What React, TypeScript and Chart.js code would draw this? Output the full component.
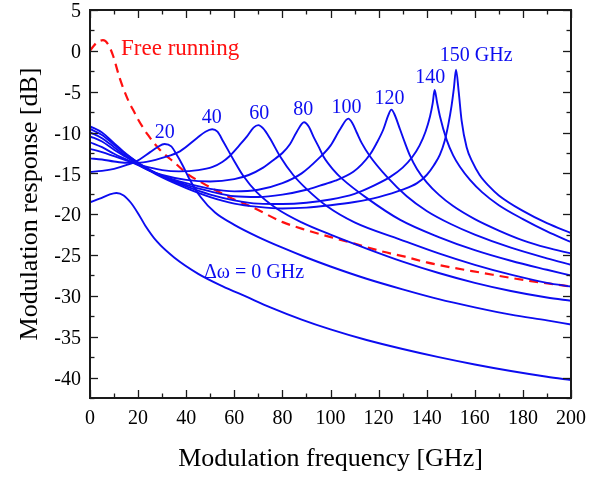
import React, { useEffect, useRef } from 'react';
import { Chart, registerables } from 'chart.js';

Chart.register(...registerables);

// ---------- Data ----------
const xTicks = [0, 20, 40, 60, 80, 100, 120, 140, 160, 180, 200];
const xMinorTicks = [10, 30, 50, 70, 90, 110, 130, 150, 170, 190];
const yTicks = [-40, -35, -30, -25, -20, -15, -10, -5, 0, 5];
const yMinorTicks = [-42.5, -37.5, -32.5, -27.5, -22.5, -17.5, -12.5, -7.5, -2.5, 2.5];

// Free running (dashed red)
const freeX = [0, 1.5, 3, 5.4, 7.5, 9.6, 12.3, 15.8, 18.6, 20, 24.1, 29, 35.2, 40.7, 46.3, 51.8, 60, 66.5, 80.4, 90, 101.2, 110, 122, 131, 140, 150, 163.5, 175, 187, 200];
const freeY = [0, 0.6, 1.05, 1.3, 0.8, -0.6, -3.3, -6.0, -7.6, -8.4, -10.3, -12.1, -13.7, -15.1, -16.1, -17.0, -18.2, -19.0, -21.0, -21.95, -22.9, -23.6, -24.6, -25.2, -25.9, -26.5, -27.2, -27.8, -28.35, -28.85];

// Δω = 0 GHz
const d0X = [0, 4, 8, 11, 14, 17, 20, 23, 28, 35, 45, 55, 65, 75, 88, 100, 115, 130, 145, 160, 175, 190, 200];
const d0Y = [-18.55, -18.1, -17.6, -17.4, -17.7, -18.6, -19.9, -21.4, -23.4, -25.3, -27.3, -28.8, -30.1, -31.4, -32.9, -34.1, -35.4, -36.5, -37.5, -38.4, -39.2, -39.9, -40.3];

// Δω = 20 GHz
const d20X = [0, 5, 10, 15, 20, 25, 28, 31, 33.8, 36, 38.5, 41, 46, 52, 60, 70, 80, 90, 100, 115, 130, 145, 160, 175, 190, 200];
const d20Y = [-14.83, -14.7, -14.45, -14.0, -13.4, -12.4, -11.8, -11.4, -11.7, -12.7, -14.0, -15.5, -17.9, -19.8, -21.3, -22.8, -24.1, -25.3, -26.4, -27.9, -29.2, -30.4, -31.4, -32.3, -33.0, -33.5];

// Δω = 40 GHz
const d40X = [0, 5, 10, 15, 20, 25, 30, 37.4, 44.4, 48, 50.8, 53, 55.4, 59.6, 63.7, 69.3, 77.6, 88, 100, 115, 130, 145, 160, 175, 190, 200];
const d40Y = [-13.16, -13.3, -13.55, -13.7, -13.7, -13.5, -13.1, -12.3, -10.7, -9.9, -9.6, -9.9, -11.1, -13.3, -15.3, -17.3, -19.3, -21.0, -22.5, -24.2, -25.8, -27.2, -28.4, -29.4, -30.2, -30.6];

// Δω = 60 GHz
const d60X = [0, 5, 10, 15, 20, 25, 30, 37, 45, 51, 55, 58, 62, 65.2, 68, 70, 72, 74.8, 79, 84.5, 90, 98.4, 110, 129, 145, 160, 175, 190, 200];
const d60Y = [-12.0, -12.4, -12.9, -13.4, -13.9, -14.3, -14.6, -14.75, -14.6, -14.2, -13.6, -12.9, -11.6, -10.5, -9.4, -9.1, -9.5, -10.7, -12.9, -15.2, -16.9, -19.0, -21.0, -23.1, -24.8, -26.2, -27.4, -28.4, -28.85];

// Δω = 80 GHz
const d80X = [0, 5, 10, 15, 20, 25, 30, 40, 50, 60, 66, 72, 77, 80, 83.2, 86, 89, 91, 92.9, 95, 97, 101, 105, 115, 129, 145, 160, 175, 190, 200];
const d80Y = [-11.2, -11.8, -12.6, -13.3, -14.0, -14.7, -15.2, -15.8, -16.0, -15.7, -15.2, -14.3, -13.2, -12.5, -11.4, -9.9, -8.75, -9.3, -10.5, -11.7, -12.9, -14.5, -15.7, -18.0, -20.7, -22.8, -24.4, -25.7, -26.8, -27.5];

// Δω = 100 GHz
const d100X = [0, 5, 10, 15, 20, 25, 30, 40, 50, 60, 70, 80, 88, 95, 100, 104, 107.4, 109, 110.9, 113, 116.4, 123.4, 131.7, 140, 150, 160, 175, 190, 200];
const d100Y = [-10.47, -11.1, -12.1, -13.0, -13.9, -14.7, -15.3, -16.2, -16.9, -17.2, -17.0, -16.2, -15.0, -13.2, -11.6, -9.6, -8.3, -8.8, -10.0, -11.3, -12.9, -15.4, -17.8, -19.6, -21.2, -22.5, -24.1, -25.4, -26.2];

// Δω = 120 GHz
const d120X = [0, 5, 10, 15, 20, 25, 30, 40, 50, 60, 70, 80, 90, 95.6, 102, 109.5, 113, 116.4, 119, 122, 124, 125.3, 126.5, 128.9, 131, 133, 136, 140, 145, 151, 160, 170, 180, 190, 200];
const d120Y = [-9.98, -10.7, -11.8, -12.9, -13.8, -14.6, -15.3, -16.4, -17.2, -17.8, -17.9, -17.6, -17.0, -16.5, -15.9, -14.8, -13.9, -12.7, -11.4, -9.6, -7.9, -7.2, -7.7, -9.6, -11.3, -12.8, -14.5, -16.1, -17.6, -19.0, -20.6, -22.0, -23.2, -24.1, -24.8];

// Δω = 140 GHz
const d140X = [0, 5, 10, 15, 20, 25, 30, 40, 50, 60, 70, 80, 90, 100, 110, 118, 125, 130, 134, 137, 139.5, 141.4, 142.5, 143.3, 144.3, 145.5, 148.3, 151, 153.8, 158, 163, 170, 180, 190, 200];
const d140Y = [-9.56, -10.3, -11.5, -12.7, -13.7, -14.6, -15.4, -16.6, -17.6, -18.3, -18.7, -18.75, -18.6, -18.2, -17.5, -16.5, -15.4, -14.3, -13.0, -11.6, -9.9, -8.0, -6.4, -4.8, -6.3, -8.0, -10.9, -12.8, -14.2, -15.8, -17.3, -18.9, -20.6, -22.1, -23.4];

// Δω = 150 GHz
const d150X = [0, 5, 10, 15, 20, 25, 30, 40, 50, 60, 70, 80, 90, 100, 110, 120, 130, 136, 140, 143, 145.5, 147.5, 149, 150.3, 151.3, 152.2, 153.3, 154.5, 156.6, 159, 162, 166, 170, 180, 190, 200];
const d150Y = [-9.24, -10.0, -11.3, -12.6, -13.7, -14.7, -15.5, -16.8, -17.9, -18.7, -19.1, -19.3, -19.2, -18.9, -18.5, -17.9, -17.0, -16.2, -15.2, -14.0, -12.7, -11.0, -9.0, -6.8, -4.6, -2.3, -5.0, -8.5, -11.8, -13.6, -15.2, -16.6, -17.7, -19.6, -21.1, -22.3];

// Curve annotations (text, anchor in data coordinates)
const annTexts = ['20', '40', '60', '80', '100', '120', '140', '150 GHz', 'Δω = 0 GHz'];
const annX = [31.06, 50.6, 70.4, 88.7, 106.7, 124.5, 141.5, 160.6, 68.2];
const annY = [-10.66, -8.82, -8.3, -7.89, -7.6, -6.46, -3.92, -1.27, -27.82];
const freeLabel = 'Free running';
const freeLabelX = 12.9;
const freeLabelY = -0.45;

// ---------- Styling ----------
const BLUE = '#0c0cf0';
const RED = '#ff1010';
const SERIF = '"Liberation Serif", "Times New Roman", serif';

const zip = (xs: number[], ys: number[]) => xs.map((x, i) => ({ x, y: ys[i] }));

const blueSeries: [string, number[], number[]][] = [
  ['Δω = 0', d0X, d0Y],
  ['20', d20X, d20Y],
  ['40', d40X, d40Y],
  ['60', d60X, d60Y],
  ['80', d80X, d80Y],
  ['100', d100X, d100Y],
  ['120', d120X, d120Y],
  ['140', d140X, d140Y],
  ['150', d150X, d150Y],
];

const framePlugin = {
  id: 'frameTicks',
  afterDatasetsDraw(chart: any) {
    const { ctx, chartArea, scales } = chart;
    const { left, right, top, bottom } = chartArea;
    const xs = scales.x;
    const ys = scales.y;
    ctx.save();
    ctx.strokeStyle = '#1a1a1a';
    ctx.lineWidth = 1.3;
    const seg = (x1: number, y1: number, x2: number, y2: number) => {
      ctx.beginPath();
      ctx.moveTo(x1, y1);
      ctx.lineTo(x2, y2);
      ctx.stroke();
    };
    const major = 8;
    const minor = 4.5;
    xTicks.forEach((v) => {
      const p = Math.round(xs.getPixelForValue(v)) + 0.5;
      seg(p, bottom, p, bottom - major);
      seg(p, top, p, top + major);
    });
    xMinorTicks.forEach((v) => {
      const p = Math.round(xs.getPixelForValue(v)) + 0.5;
      seg(p, bottom, p, bottom - minor);
      seg(p, top, p, top + minor);
    });
    yTicks.forEach((v) => {
      const p = Math.round(ys.getPixelForValue(v)) + 0.5;
      seg(left, p, left + major, p);
      seg(right, p, right - major, p);
    });
    yMinorTicks.forEach((v) => {
      const p = Math.round(ys.getPixelForValue(v)) + 0.5;
      seg(left, p, left + minor, p);
      seg(right, p, right - minor, p);
    });
    ctx.lineWidth = 2;
    ctx.strokeRect(left, top, right - left, bottom - top);
    ctx.restore();
  },
};

const labelPlugin = {
  id: 'curveLabels',
  afterDatasetsDraw(chart: any) {
    const { ctx, scales } = chart;
    ctx.save();
    ctx.textBaseline = 'alphabetic';
    ctx.fillStyle = BLUE;
    ctx.textAlign = 'center';
    ctx.font = `20px ${SERIF}`;
    annTexts.forEach((t, i) => {
      ctx.fillText(t, scales.x.getPixelForValue(annX[i]), scales.y.getPixelForValue(annY[i]));
    });
    ctx.fillStyle = RED;
    ctx.textAlign = 'left';
    ctx.font = `23px ${SERIF}`;
    ctx.fillText(freeLabel, scales.x.getPixelForValue(freeLabelX), scales.y.getPixelForValue(freeLabelY));
    ctx.restore();
  },
};

export default function App() {
  const canvasRef = useRef<HTMLCanvasElement | null>(null);

  useEffect(() => {
    const canvas = canvasRef.current;
    if (!canvas) return;
    const datasets: any[] = blueSeries.map(([label, xs, ys]) => ({
      label,
      data: zip(xs, ys),
      borderColor: BLUE,
      borderWidth: 1.9,
      pointRadius: 0,
      fill: false,
      cubicInterpolationMode: 'monotone',
    }));
    datasets.push({
      label: 'Free running',
      data: zip(freeX, freeY),
      borderColor: RED,
      borderWidth: 2.2,
      borderDash: [9, 6],
      pointRadius: 0,
      fill: false,
      cubicInterpolationMode: 'monotone',
    });

    const tickFont = { family: SERIF, size: 20, lineHeight: 1 };
    const chart = new Chart(canvas, {
      type: 'line',
      data: { datasets },
      plugins: [framePlugin, labelPlugin],
      options: {
        responsive: false,
        animation: false,
        devicePixelRatio: 1,
        layout: { padding: { left: 0, right: 40, top: 10, bottom: 0 } },
        plugins: { legend: { display: false }, tooltip: { enabled: false } },
        scales: {
          x: {
            type: 'linear',
            min: 0,
            max: 200,
            grid: { display: false, drawTicks: false },
            border: { display: false },
            afterBuildTicks: (s: any) => {
              s.ticks = xTicks.map((v) => ({ value: v }));
            },
            afterFit: (s: any) => {
              s.height = 80;
              s.paddingLeft = 0;
              s.paddingRight = 0;
            },
            ticks: { font: tickFont, color: '#000', padding: 11, maxRotation: 0, autoSkip: false },
            title: {
              display: true,
              text: 'Modulation frequency [GHz]',
              font: { family: SERIF, size: 26 },
              color: '#000',
              padding: { top: 0, bottom: 3 },
            },
          },
          y: {
            type: 'linear',
            min: -42.5,
            max: 5,
            grid: { display: false, drawTicks: false },
            border: { display: false },
            afterBuildTicks: (s: any) => {
              s.ticks = yTicks.map((v) => ({ value: v }));
            },
            afterFit: (s: any) => {
              s.width = 90;
              s.paddingTop = 0;
              s.paddingBottom = 0;
            },
            ticks: { font: tickFont, color: '#000', padding: 9, autoSkip: false, labelOffset: 2 },
            title: {
              display: true,
              text: 'Modulation response [dB]',
              font: { family: SERIF, size: 26 },
              color: '#000',
              padding: { top: 15, bottom: 0 },
            },
          },
        },
      } as any,
    });
    return () => chart.destroy();
  }, []);

  return (
    <div style={{ position: 'fixed', left: 0, top: 0, width: 611, height: 478, background: '#fff' }}>
      <canvas ref={canvasRef} width={611} height={478} style={{ width: 611, height: 478 }} />
    </div>
  );
}
